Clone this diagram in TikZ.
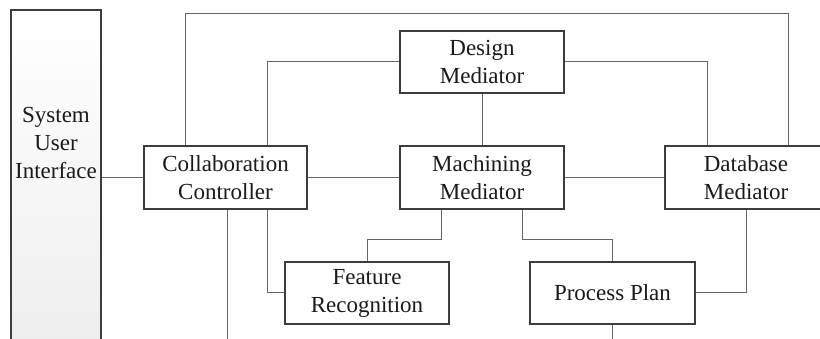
\documentclass[tikz,border=0pt]{standalone}
\usepackage{fontspec}
\setmainfont{Liberation Serif}
\definecolor{boxline}{HTML}{3C3C3C}
\definecolor{wire}{HTML}{666666}
\definecolor{ink}{HTML}{1A1A1A}
\begin{document}
\begin{tikzpicture}[x=1pt,y=-1pt,
  block/.style={draw=boxline, line width=1.6pt, fill=white, align=center,
    text=ink, inner sep=0pt, font=\fontsize{23}{28}\selectfont},
  wireline/.style={draw=wire, line width=1pt}]
\clip (0,0) rectangle (820,339);
\fill[white] (0,0) rectangle (820,339);

% boxes
\node[block, top color=white, bottom color=gray!14, minimum width=90pt, minimum height=350pt] (sui) at (56,185) {};
\node[text=ink, align=center, font=\fontsize{23}{28}\selectfont] (suitext) at (56,143) {System\\User\\Interface};
\node[block, minimum width=163pt, minimum height=63pt] (cc) at (225.5,177.5) {Collaboration\\Controller};
\node[block, minimum width=164pt, minimum height=62pt] (dm) at (482,62) {Design\\Mediator};
\node[block, minimum width=164pt, minimum height=63pt] (mm) at (482,177.5) {Machining\\Mediator};
\node[block, minimum width=162pt, minimum height=63pt] (db) at (746,177.5) {Database\\Mediator};
\node[block, minimum width=164pt, minimum height=62pt] (fr) at (367,293) {Feature\\Recognition};
\node[block, minimum width=165pt, minimum height=62pt] (pp) at (612.5,293) {Process Plan};

% routing points
\coordinate (topL) at (185,14);
\coordinate (topR) at (788,14);
\coordinate (dmL) at (267,62);
\coordinate (dmR) at (707,62);
\coordinate (bot1) at (227,345);
\coordinate (m1) at (441,240);
\coordinate (m2) at (522,240);

% connectors
\draw[wireline] (cc.north -| topL) -- (topL) -- (topR) -- (db.north -| topR);
\draw[wireline] (cc.north -| dmL) |- (dm.west);
\draw[wireline] (dm.east) -| (db.north -| dmR);
\draw[wireline] (dm.south) -- (mm.north);
\draw[wireline] (sui.east |- cc.west) -- (cc.west);
\draw[wireline] (cc.east) -- (mm.west);
\draw[wireline] (mm.east) -- (db.west);
\draw[wireline] (cc.south -| bot1) -- (bot1);
\draw[wireline] (cc.south -| dmL) |- (fr.west);
\draw[wireline] (mm.south -| m1) -- (m1) -| (fr.north);
\draw[wireline] (mm.south -| m2) -- (m2) -| (pp.north);
\draw[wireline] (db.south) |- (pp.east);
\draw[wireline] (pp.south) -- (pp.south |- bot1);
\end{tikzpicture}
\end{document}
